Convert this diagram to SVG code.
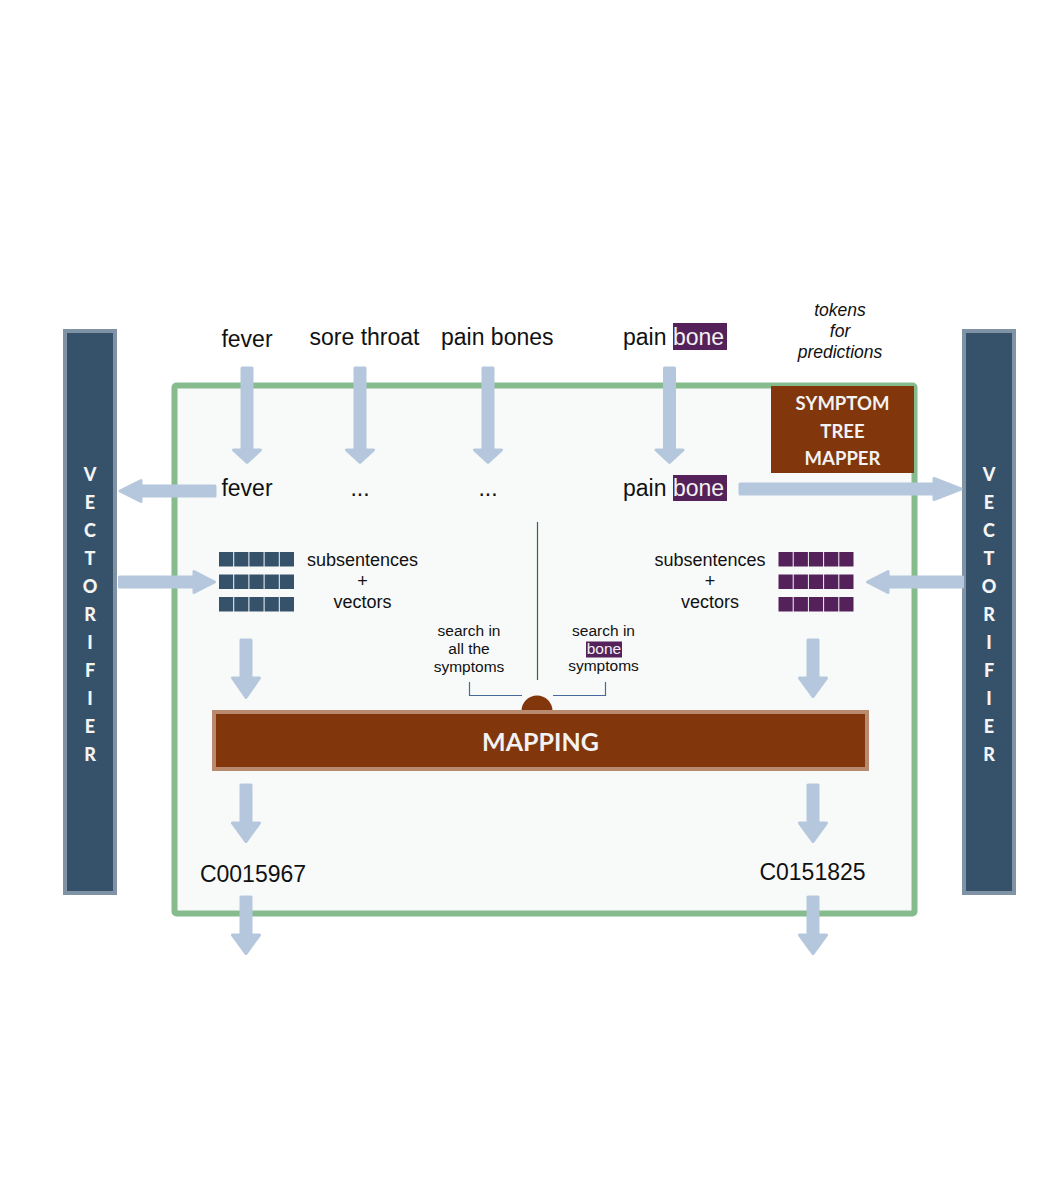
<svg xmlns="http://www.w3.org/2000/svg" xmlns:xlink="http://www.w3.org/1999/xlink" width="1058" height="1190" viewBox="0 0 1058 1190">
<style>
.t{font-family:"Liberation Sans",Arial,sans-serif;fill:#111;}
.lbl{font-size:23px;}
.sm{font-size:18px;text-anchor:middle;}
.xs{font-size:15.5px;text-anchor:middle;}
.it{font-size:17.5px;font-style:italic;text-anchor:middle;}
.hl{fill:#54215a;}
.hlt{fill:#f2f2f2;}
.vec{fill:#36526a;stroke:#7f93a5;stroke-width:4;}
.vl{font-family:Lato,"Open Sans",sans-serif;font-weight:900;font-size:18px;fill:#f4f4f4;text-anchor:middle;}
.brown{fill:#82360c;}
.bt{font-family:Lato,"Open Sans",sans-serif;font-weight:bold;fill:#f2f2f2;text-anchor:middle;}
.arr{fill:#b4c7dc;stroke:#b4c7dc;stroke-width:3;stroke-linejoin:round;}
.cb{fill:#36526a;}
.cp{fill:#54215a;}
</style>
<defs>
<g id="row">
<rect x="0" y="0" width="14.2" height="14.5"/>
<rect x="15.2" y="0" width="14.2" height="14.5"/>
<rect x="30.4" y="0" width="14.2" height="14.5"/>
<rect x="45.6" y="0" width="14.2" height="14.5"/>
<rect x="60.8" y="0" width="14.2" height="14.5"/>
</g>
</defs>
<rect x="0" y="0" width="1058" height="1190" fill="#ffffff"/>

<g id="frame">
<rect x="174.5" y="385.5" width="740" height="528" fill="#f8faf9" stroke="#86bb8d" stroke-width="6" rx="2"/>
</g>

<g id="vectorifier-left">
<rect class="vec" x="65" y="331" width="50" height="562"/>
<text class="vl" x="90" y="480.5">V</text>
<text class="vl" x="90" y="508.5">E</text>
<text class="vl" x="90" y="536.5">C</text>
<text class="vl" x="90" y="564.5">T</text>
<text class="vl" x="90" y="592.5">O</text>
<text class="vl" x="90" y="620.5">R</text>
<text class="vl" x="90" y="648.5">I</text>
<text class="vl" x="90" y="676.5">F</text>
<text class="vl" x="90" y="704.5">I</text>
<text class="vl" x="90" y="732.5">E</text>
<text class="vl" x="90" y="761">R</text>
</g>

<g id="vectorifier-right">
<rect class="vec" x="964" y="331" width="50" height="562"/>
<text class="vl" x="989" y="480.5">V</text>
<text class="vl" x="989" y="508.5">E</text>
<text class="vl" x="989" y="536.5">C</text>
<text class="vl" x="989" y="564.5">T</text>
<text class="vl" x="989" y="592.5">O</text>
<text class="vl" x="989" y="620.5">R</text>
<text class="vl" x="989" y="648.5">I</text>
<text class="vl" x="989" y="676.5">F</text>
<text class="vl" x="989" y="704.5">I</text>
<text class="vl" x="989" y="732.5">E</text>
<text class="vl" x="989" y="761">R</text>
</g>

<g id="input-fever"><text class="t lbl" x="247" y="347" text-anchor="middle">fever</text></g>
<g id="input-sore-throat"><text class="t lbl" x="364.5" y="345" text-anchor="middle">sore throat</text></g>
<g id="input-pain-bones"><text class="t lbl" x="441" y="345">pain bones</text></g>
<g id="input-pain-bone">
<rect class="hl" x="673" y="323" width="54" height="27"/>
<text class="t lbl" x="623" y="345">pain <tspan class="hlt">bone</tspan></text>
</g>

<g id="tokens-note">
<text class="t it" x="840" y="316">tokens</text>
<text class="t it" x="840" y="337">for</text>
<text class="t it" x="840" y="358">predictions</text>
</g>

<g id="symptom-tree-mapper">
<rect class="brown" x="771" y="386" width="143" height="87"/>
<text class="bt" x="842.5" y="410" font-size="18.5">SYMPTOM</text>
<text class="bt" x="842.5" y="438" font-size="18.5">TREE</text>
<text class="bt" x="842.5" y="465" font-size="18.5">MAPPER</text>
</g>

<g id="token-fever"><text class="t lbl" x="247" y="496" text-anchor="middle">fever</text></g>
<g id="token-dots-1"><text class="t lbl" x="360" y="496" text-anchor="middle">...</text></g>
<g id="token-dots-2"><text class="t lbl" x="488" y="496" text-anchor="middle">...</text></g>
<g id="token-pain-bone">
<rect class="hl" x="673" y="475" width="54" height="26"/>
<text class="t lbl" x="623" y="496">pain <tspan class="hlt">bone</tspan></text>
</g>

<g id="divider">
<line x1="537.5" y1="522" x2="537.5" y2="680" stroke="#2f6b3b" stroke-width="1.2"/>
</g>

<g id="vectors-left">
<use xlink:href="#row" href="#row" class="cb" x="219" y="552"/>
<use xlink:href="#row" href="#row" class="cb" x="219" y="574.5"/>
<use xlink:href="#row" href="#row" class="cb" x="219" y="597"/>
<text class="t sm" x="362.5" y="566">subsentences</text>
<text class="t sm" x="362.5" y="587">+</text>
<text class="t sm" x="362.5" y="608">vectors</text>
</g>

<g id="vectors-right">
<use xlink:href="#row" href="#row" class="cp" x="778.5" y="552"/>
<use xlink:href="#row" href="#row" class="cp" x="778.5" y="574.5"/>
<use xlink:href="#row" href="#row" class="cp" x="778.5" y="597"/>
<text class="t sm" x="710" y="566">subsentences</text>
<text class="t sm" x="710" y="587">+</text>
<text class="t sm" x="710" y="608">vectors</text>
</g>

<g id="search-all">
<text class="t xs" x="469" y="636">search in</text>
<text class="t xs" x="469" y="654">all the</text>
<text class="t xs" x="469" y="672">symptoms</text>
<path d="M469.5 682 V695.5 H522" fill="none" stroke="#44699a" stroke-width="1.2"/>
</g>

<g id="search-bone">
<rect class="hl" x="586" y="641.5" width="36" height="16"/>
<text class="t xs" x="603.5" y="636">search in</text>
<text class="t xs" x="604" y="654"><tspan class="hlt">bone</tspan></text>
<text class="t xs" x="603.5" y="671">symptoms</text>
<path d="M553 695.5 H605.5 V682" fill="none" stroke="#44699a" stroke-width="1.2"/>
</g>

<g id="mapping">
<circle class="brown" cx="537" cy="711" r="15.5"/>
<rect x="214" y="712" width="653" height="57" fill="#82360c" stroke="#b98a6e" stroke-width="4"/>
<text class="bt" x="540.5" y="751" font-size="25">MAPPING</text>
</g>

<g id="code-left"><text class="t lbl" x="253" y="882" text-anchor="middle">C0015967</text></g>
<g id="code-right"><text class="t lbl" x="812.5" y="880" text-anchor="middle">C0151825</text></g>

<g id="connectors">
<path class="arr" d="M242 368 H252 V450 H260.5 L247 462.5 L233.5 450 H242 Z"/>
<path class="arr" d="M355 368 H365 V450 H373.5 L360 462.5 L346.5 450 H355 Z"/>
<path class="arr" d="M483 368 H493 V450 H501.5 L488 462.5 L474.5 450 H483 Z"/>
<path class="arr" d="M664.5 368 H674.5 V450 H683 L669.5 462.5 L656 450 H664.5 Z"/>

<path class="arr" d="M215 486 V496 H141 V501.5 L120 491 L141 480.5 V486 Z"/>
<path class="arr" d="M740 484 V494 H934 V499.5 L961 489 L934 478.5 V484 Z"/>

<path class="arr" d="M119.5 577 V587 H194 V592.5 L214.5 582 L194 571.5 V577 Z"/>
<path class="arr" d="M962.5 577 V587 H888 V592.5 L867.5 582 L888 571.5 V577 Z"/>

<path class="arr" d="M241 640 H251 V678 H259.5 L246 697.5 L232.5 678 H241 Z"/>
<path class="arr" d="M808 640 H818 V678 H826.5 L813 696.5 L799.5 678 H808 Z"/>

<path class="arr" d="M241 785 H251 V823 H259.5 L246 841.5 L232.5 823 H241 Z"/>
<path class="arr" d="M808 785 H818 V823 H826.5 L813 841.5 L799.5 823 H808 Z"/>

<path class="arr" d="M241 897 H251 V935 H259.5 L246 953.5 L232.5 935 H241 Z"/>
<path class="arr" d="M808 897 H818 V935 H826.5 L813 953.5 L799.5 935 H808 Z"/>
</g>
</svg>
